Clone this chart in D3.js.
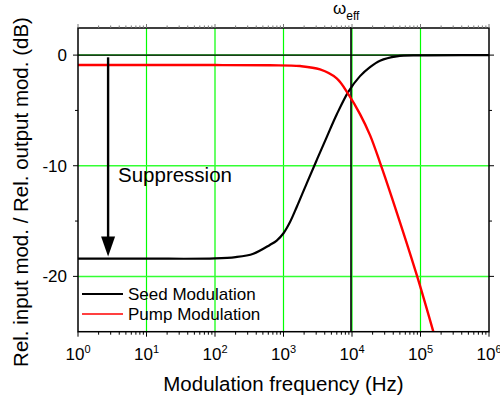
<!DOCTYPE html>
<html><head><meta charset="utf-8">
<script src="https://cdn.jsdelivr.net/npm/d3@7"></script>
<style>
html,body{margin:0;padding:0;background:#fff;}
svg{display:block;font-family:Arial,"Liberation Sans",sans-serif;}
</style></head>
<body>
<svg id="c" width="500" height="400"></svg>
<script>
// ---- data ----
const seedFreq = [1, 10, 100, 200, 363, 631, 796, 1000, 1245, 1560, 2183, 3054, 4276, 5980, 8830, 13090, 18320, 25640, 44960, 100000, 1000000];
const seedDb   = [-18.4, -18.4, -18.38, -18.26, -17.95, -17.16, -16.76, -16.1, -15.09, -13.73, -11.59, -9.49, -7.41, -5.37, -3.32, -1.9, -1.08, -0.5, -0.11, -0.02, 0];
const pumpFreq = [1, 10, 100, 631, 1742, 3412, 5980, 8830, 13090, 18320, 25640, 38000, 88100, 153800];
const pumpDb   = [-0.9, -0.9, -0.9, -0.92, -0.99, -1.29, -2.1, -3.52, -5.33, -7.23, -9.71, -12.83, -19.87, -25.0];
const xTickExps = [0, 1, 2, 3, 4, 5, 6];
const yTicks = [0, -10, -20];
const yMinorTicks = [-5, -15];
const seriesNames = ["Seed Modulation", "Pump Modulation"];
const seriesColors = ["#000000", "#ff0000"];
const omegaEffFreq = 10000;
const arrowFreq = 2.75, arrowFrom = -0.2, arrowTo = -18.2;

// ---- layout ----
const svg = d3.select("#c");
const L = 78, R = 489, T = 28, B = 331.7;
const x = d3.scaleLog().domain([1, 1e6]).range([L, R]);
const y = d3.scaleLinear().domain([-25, 2.45]).range([B, T]);

const minorX = [];
for (let e = 0; e < 6; e++) for (let m = 2; m <= 9; m++) minorX.push(m * Math.pow(10, e));

// grid
const grid = svg.append("g");
grid.selectAll("line.vg").data(xTickExps.slice(1, -1)).join("line")
  .attr("x1", d => x(Math.pow(10, d))).attr("x2", d => x(Math.pow(10, d)))
  .attr("y1", T).attr("y2", B).attr("stroke", "#00ff00").attr("stroke-width", 1.2);
grid.selectAll("line.hg").data(yTicks).join("line")
  .attr("x1", L).attr("x2", R).attr("y1", d => y(d)).attr("y2", d => y(d))
  .attr("stroke", "#33ff33").attr("stroke-width", 1.5);

// zero reference line
svg.append("line").attr("x1", L).attr("x2", R).attr("y1", y(0)).attr("y2", y(0))
  .attr("stroke", "#000").attr("stroke-width", 1.1);

// omega_eff line
svg.append("line").attr("x1", x(omegaEffFreq) - 1).attr("x2", x(omegaEffFreq) - 1)
  .attr("y1", T - 1).attr("y2", B).attr("stroke", "#000").attr("stroke-width", 1.6);

// curves
svg.append("clipPath").attr("id", "clip").append("rect")
  .attr("x", L).attr("y", T).attr("width", R - L).attr("height", B - T);
const line = d3.line().x(d => x(d[0])).y(d => y(d[1])).curve(d3.curveCatmullRom.alpha(0.5));
const series = [d3.zip(seedFreq, seedDb), d3.zip(pumpFreq, pumpDb)];
svg.append("g").attr("clip-path", "url(#clip)").selectAll("path").data(series).join("path")
  .attr("d", line).attr("fill", "none")
  .attr("stroke", (d, i) => seriesColors[i]).attr("stroke-width", (d, i) => i === 0 ? 2.2 : 2.4);

// arrow
const ax = x(arrowFreq);
svg.append("line").attr("x1", ax).attr("x2", ax).attr("y1", y(arrowFrom)).attr("y2", y(arrowTo) - 18)
  .attr("stroke", "#000").attr("stroke-width", 2.4);
svg.append("path")
  .attr("d", `M${ax - 7},${y(arrowTo) - 20} L${ax + 7},${y(arrowTo) - 20} L${ax},${y(arrowTo)} Z`)
  .attr("fill", "#000");

// frame
svg.append("rect").attr("x", L).attr("y", T).attr("width", R - L).attr("height", B - T)
  .attr("fill", "none").attr("stroke", "#000").attr("stroke-width", 1.5);

// ticks
const tk = svg.append("g").attr("stroke", "#000").attr("stroke-width", 1);
tk.selectAll("line.bM").data(xTickExps).join("line")
  .attr("x1", d => x(Math.pow(10, d))).attr("x2", d => x(Math.pow(10, d))).attr("y1", B).attr("y2", B + 5);
tk.selectAll("line.bm").data(minorX).join("line").attr("class", "bm")
  .attr("x1", d => x(d)).attr("x2", d => x(d)).attr("y1", B).attr("y2", B + 3);
const tk2 = svg.append("g").attr("stroke", "#777").attr("stroke-width", 1);
tk2.selectAll("line.tM").data(xTickExps).join("line")
  .attr("x1", d => x(Math.pow(10, d))).attr("x2", d => x(Math.pow(10, d))).attr("y1", T).attr("y2", T - 4);
tk2.selectAll("line.tm").data(minorX).join("line")
  .attr("x1", d => x(d)).attr("x2", d => x(d)).attr("y1", T).attr("y2", T - 2.5);
[[L, -1], [R, 1]].forEach(([px, s]) => {
  const g = svg.append("g").attr("stroke", "#000").attr("stroke-width", 1);
  g.selectAll("line.M").data(yTicks).join("line")
    .attr("x1", px).attr("x2", px + s * 5).attr("y1", d => y(d)).attr("y2", d => y(d));
  g.selectAll("line.m").data(yMinorTicks).join("line").attr("class", "m")
    .attr("x1", px).attr("x2", px + s * 3).attr("y1", d => y(d)).attr("y2", d => y(d));
});

// tick labels
const xl = svg.append("g").attr("font-size", 17).attr("fill", "#000");
xTickExps.forEach(e => {
  const t = xl.append("text").attr("x", x(Math.pow(10, e))).attr("y", B + 28).attr("text-anchor", "middle");
  t.append("tspan").text("10");
  t.append("tspan").attr("font-size", 11).attr("dy", -7).text(e);
});
svg.append("g").attr("font-size", 17).selectAll("text").data(yTicks).join("text")
  .attr("x", L - 11).attr("y", d => y(d) + 6).attr("text-anchor", "end").text(d => d);

// axis titles
svg.append("text").attr("x", (L + R) / 2).attr("y", 391).attr("text-anchor", "middle")
  .attr("font-size", 20.5).text("Modulation frequency (Hz)");
svg.append("text").attr("transform", "translate(28,192) rotate(-90)").attr("text-anchor", "middle")
  .attr("font-size", 20.5).text("Rel. input mod. / Rel. output mod. (dB)");

// omega_eff label
const om = svg.append("text").attr("x", x(omegaEffFreq) - 19).attr("y", 14).attr("font-size", 17);
om.append("tspan").text("ω");
om.append("tspan").attr("font-size", 12).attr("dy", 6).text("eff");

// Suppression label
svg.append("text").attr("x", 118).attr("y", y(-11.5)).attr("font-size", 20.5).text("Suppression");

// legend
const lg = svg.append("g");
seriesNames.forEach((n, i) => {
  const ly = 294 + i * 20;
  lg.append("line").attr("x1", 82).attr("x2", 123).attr("y1", ly).attr("y2", ly)
    .attr("stroke", seriesColors[i]).attr("stroke-width", i === 0 ? 2.2 : 1.6);
  lg.append("text").attr("x", 128).attr("y", ly + 6).attr("font-size", 17).text(n);
});
</script>
</body></html>
